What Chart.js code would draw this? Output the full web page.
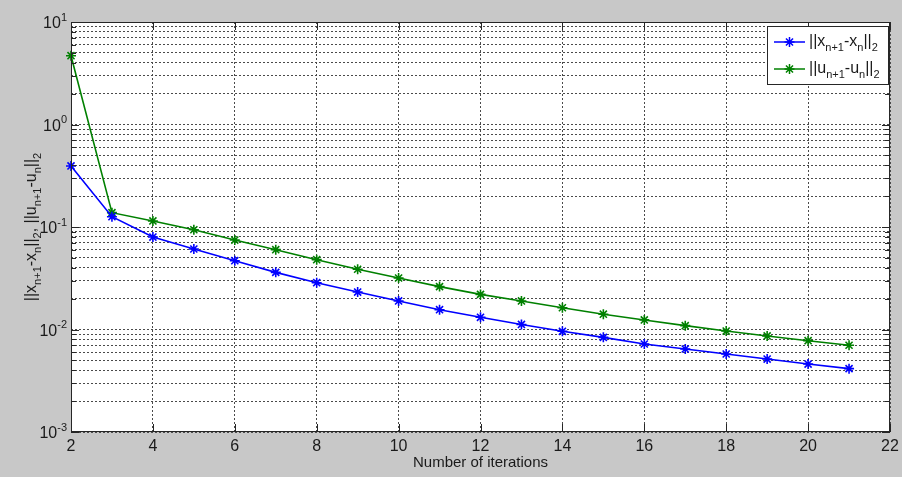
<!DOCTYPE html>
<html>
<head>
<meta charset="utf-8">
<script src="https://cdn.jsdelivr.net/npm/chart.js@4/dist/chart.umd.min.js"></script>
<style>
  html, body { margin: 0; padding: 0; background: #c8c8c8; }
  #wrap { width: 902px; height: 477px; }
</style>
</head>
<body>
<div id="wrap"><canvas id="myChart" width="902" height="477"></canvas></div>
<script>
const iterations = [2, 3, 4, 5, 6, 7, 8, 9, 10, 11, 12, 13, 14, 15, 16, 17, 18, 19, 20, 21];
const xDiff = [0.394, 0.126, 0.0798, 0.061, 0.0469, 0.0361, 0.0286, 0.0232, 0.019, 0.0156,
  0.01315, 0.0112, 0.0096, 0.00838, 0.00722, 0.00645, 0.00577, 0.00515, 0.0046, 0.00415];
const uDiff = [4.69, 0.138, 0.1146, 0.094, 0.0746, 0.0601, 0.048, 0.0387, 0.0318, 0.0262,
  0.022, 0.019, 0.0163, 0.0141, 0.0124, 0.0109, 0.00966, 0.00865, 0.00778, 0.00702];
const xTicks = [2, 4, 6, 8, 10, 12, 14, 16, 18, 20, 22];
const yExponents = [-3, -2, -1, 0, 1];

const FONT = '"Liberation Sans", Arial, sans-serif';

// draw text with sub/superscripts: parts = [[text, 'n'|'sub'|'sup'], ...]
function richWidth(ctx, parts, size) {
  let w = 0;
  parts.forEach(([t, k]) => {
    ctx.font = (k === 'n' ? size : Math.round(size * 0.7)) + 'px ' + FONT;
    w += ctx.measureText(t).width;
  });
  return w;
}
function drawRich(ctx, parts, x, y, size, align) {
  const w = richWidth(ctx, parts, size);
  let cx = align === 'right' ? x - w : align === 'center' ? x - w / 2 : x;
  ctx.textBaseline = 'alphabetic';
  ctx.textAlign = 'left';
  parts.forEach(([t, k]) => {
    let dy = 0;
    if (k === 'n') ctx.font = size + 'px ' + FONT;
    else ctx.font = Math.round(size * 0.7) + 'px ' + FONT;
    if (k === 'sub') dy = size * 0.3;
    if (k === 'sup') dy = -size * 0.45;
    ctx.fillText(t, cx, y + dy);
    cx += ctx.measureText(t).width;
  });
}

const labelX = [['||x', 'n'], ['n+1', 'sub'], ['-x', 'n'], ['n', 'sub'], ['||', 'n'], ['2', 'sub']];
const labelU = [['||u', 'n'], ['n+1', 'sub'], ['-u', 'n'], ['n', 'sub'], ['||', 'n'], ['2', 'sub']];

const matlabLook = {
  id: 'matlabLook',
  beforeDraw(chart) {
    const { ctx, chartArea: a } = chart;
    ctx.save();
    ctx.fillStyle = '#c8c8c8';
    ctx.fillRect(0, 0, chart.width, chart.height);
    ctx.fillStyle = '#ffffff';
    ctx.fillRect(a.left, a.top, a.right - a.left, a.bottom - a.top);
    ctx.restore();
  },
  afterDraw(chart) {
    const { ctx, chartArea: a, scales } = chart;
    const xs = scales.x, ys = scales.y;
    ctx.save();
    // axes box
    ctx.strokeStyle = '#262626';
    ctx.lineWidth = 1;
    ctx.strokeRect(a.left + 0.5, a.top + 0.5, a.right - a.left - 1, a.bottom - a.top - 1);
    // tick marks
    ctx.beginPath();
    xTicks.forEach(v => {
      const px = Math.round(xs.getPixelForValue(v)) + 0.5;
      ctx.moveTo(px, a.bottom); ctx.lineTo(px, a.bottom - 8);
      ctx.moveTo(px, a.top); ctx.lineTo(px, a.top + 8);
    });
    ys.ticks.forEach(t => {
      const py = Math.round(ys.getPixelForValue(t.value)) + 0.5;
      const len = t.major ? 8 : 5;
      ctx.moveTo(a.left, py); ctx.lineTo(a.left + len, py);
      ctx.moveTo(a.right, py); ctx.lineTo(a.right - len, py);
    });
    ctx.stroke();
    // tick labels
    ctx.fillStyle = '#1a1a1a';
    xTicks.forEach(v => {
      drawRich(ctx, [[String(v), 'n']], xs.getPixelForValue(v), a.bottom + 19, 16, 'center');
    });
    yExponents.forEach(e => {
      const py = ys.getPixelForValue(Math.pow(10, e));
      drawRich(ctx, [['10', 'n'], [String(e), 'sup']], a.left - 4, py + 6, 16, 'right');
    });
    // axis titles
    drawRich(ctx, [['Number of iterations', 'n']], (a.left + a.right) / 2, a.bottom + 35, 15, 'center');
    ctx.save();
    ctx.translate(36, (a.top + a.bottom) / 2);
    ctx.rotate(-Math.PI / 2);
    drawRich(ctx, labelX.concat([[', ', 'n']], labelU), 0, 0, 16, 'center');
    ctx.restore();
    // legend
    const lx = 767, ly = 26, lw = 121, lh = 58;
    ctx.fillStyle = '#ffffff';
    ctx.fillRect(lx, ly, lw, lh);
    ctx.strokeStyle = '#262626';
    ctx.strokeRect(lx + 0.5, ly + 0.5, lw, lh);
    chart.data.datasets.forEach((ds, i) => {
      const cy = ly + 16 + i * 27;
      ctx.strokeStyle = ds.borderColor;
      ctx.lineWidth = 1.5;
      ctx.beginPath();
      ctx.moveTo(774, cy); ctx.lineTo(805, cy);
      ctx.stroke();
      Chart.helpers.drawPoint(ctx, { pointStyle: 'star', radius: 5, borderWidth: 1.5 }, 789.5, cy);
      ctx.fillStyle = '#1a1a1a';
      drawRich(ctx, i === 0 ? labelX : labelU, 809, cy + 4, 16, 'left');
    });
    ctx.restore();
  }
};

const ctx = document.getElementById('myChart');
new Chart(ctx, {
  type: 'line',
  data: {
    datasets: [{
      label: '||x(n+1)-x(n)||2',
      data: iterations.map((it, i) => ({ x: it, y: xDiff[i] })),
      borderColor: '#0000ff',
      backgroundColor: '#0000ff',
      borderWidth: 1.6,
      pointStyle: 'star',
      pointRadius: 5,
      pointBorderWidth: 1.6,
      clip: false
    }, {
      label: '||u(n+1)-u(n)||2',
      data: iterations.map((it, i) => ({ x: it, y: uDiff[i] })),
      borderColor: '#008000',
      backgroundColor: '#008000',
      borderWidth: 1.6,
      pointStyle: 'star',
      pointRadius: 5,
      pointBorderWidth: 1.6,
      clip: false
    }]
  },
  options: {
    responsive: false,
    animation: false,
    layout: { padding: { left: 71, top: 22, right: 12, bottom: 45 } },
    plugins: { legend: { display: false }, tooltip: { enabled: false } },
    scales: {
      x: {
        type: 'linear',
        min: 2, max: 22,
        afterBuildTicks: s => { s.ticks = xTicks.map(v => ({ value: v })); },
        afterFit: s => { s.height = 0; },
        ticks: { display: false },
        grid: { color: '#4a4a4a', lineWidth: 1, drawTicks: false },
        border: { display: false, dash: [2, 2] }
      },
      y: {
        type: 'logarithmic',
        min: 0.001, max: 10,
        afterBuildTicks: s => {
          const t = [];
          for (let e = -3; e <= 1; e++) {
            for (let m = 1; m <= 9; m++) {
              const v = m * Math.pow(10, e);
              if (v <= 10) t.push({ value: v, major: m === 1 });
            }
          }
          s.ticks = t;
        },
        afterFit: s => { s.width = 0; },
        ticks: { display: false },
        grid: { color: '#4a4a4a', lineWidth: 1, drawTicks: false },
        border: { display: false, dash: [2, 2] }
      }
    }
  },
  plugins: [matlabLook]
});
</script>
</body>
</html>
